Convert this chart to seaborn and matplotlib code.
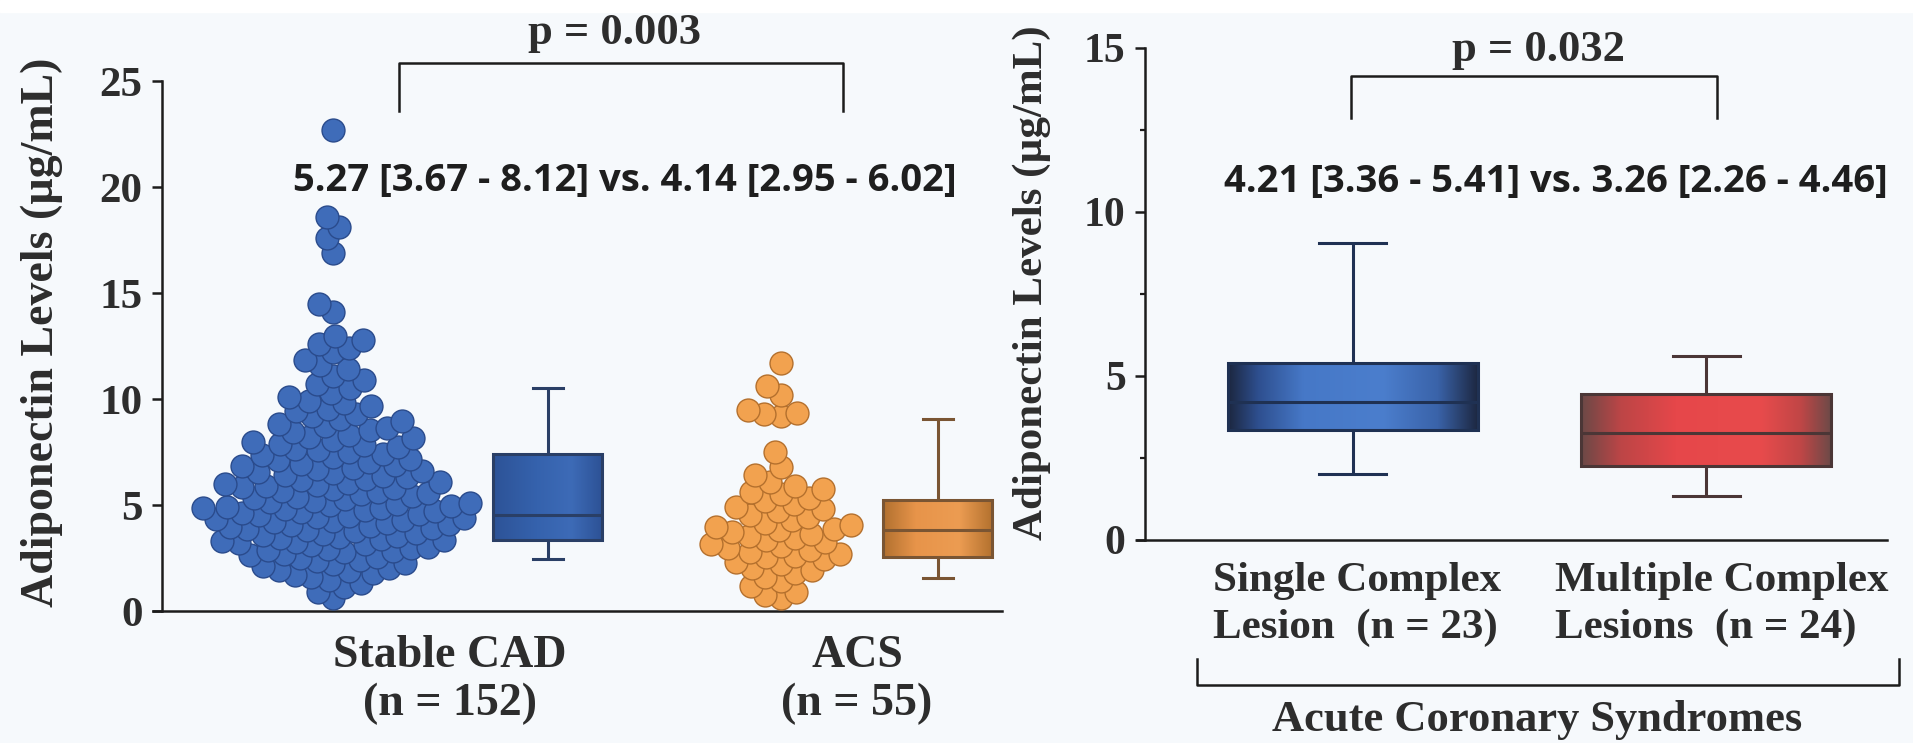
import numpy as np
import matplotlib
import matplotlib.pyplot as plt
from matplotlib.colors import LinearSegmentedColormap
from matplotlib.patches import Rectangle
import seaborn as sns

matplotlib.use('Agg')

# ---- data (adiponectin, ug/mL) ----
stable_cad_values = [
    0.6, 0.9,
    1.15, 1.3, 1.45, 1.6, 1.7, 1.8, 1.88, 1.95,
    2.05, 2.12, 2.2, 2.28, 2.35, 2.42, 2.5, 2.57, 2.64, 2.7, 2.76, 2.82, 2.88, 2.93, 2.98,
    3.04, 3.09, 3.14, 3.19, 3.24, 3.29, 3.34, 3.4, 3.45, 3.5, 3.55, 3.6, 3.65,
    3.7, 3.76, 3.81, 3.86, 3.91, 3.96,
    4.02, 4.06, 4.1, 4.15, 4.2, 4.24, 4.28, 4.33, 4.38, 4.42, 4.47, 4.52,
    4.56, 4.6, 4.65, 4.7, 4.75, 4.8, 4.84, 4.88, 4.92, 4.95, 4.98,
    5.03, 5.08, 5.14, 5.2, 5.26, 5.32, 5.38, 5.44, 5.5, 5.56, 5.62,
    5.68, 5.74, 5.8, 5.85, 5.9, 5.94, 5.98,
    6.04, 6.1, 6.16, 6.22, 6.3, 6.36, 6.42, 6.5, 6.56, 6.62, 6.7, 6.76, 6.82, 6.88, 6.95,
    7.03, 7.1, 7.18, 7.26, 7.34, 7.42, 7.5, 7.58, 7.66, 7.74, 7.82, 7.9, 7.97,
    8.05, 8.14, 8.23, 8.32, 8.42, 8.52, 8.62, 8.72, 8.84, 8.95,
    9.05, 9.18, 9.3, 9.42, 9.55, 9.68, 9.8, 9.92,
    10.1, 10.3, 10.5, 10.7, 10.9,
    11.1, 11.4, 11.6, 11.85,
    12.2, 12.4, 12.6, 12.8, 12.95,
    14.1, 14.5,
    16.9, 17.6,
    18.1, 18.6,
    22.7,
]
acs_values = [
    0.6, 0.75, 0.9,
    1.2, 1.4, 1.6, 1.8, 1.95,
    2.05, 2.2, 2.3, 2.45, 2.55, 2.6, 2.7, 2.8, 2.88, 2.95,
    3.05, 3.15, 3.25, 3.35, 3.45, 3.55, 3.65, 3.72, 3.8, 3.88, 3.95,
    4.05, 4.15, 4.3, 4.45, 4.55, 4.7, 4.8, 4.92,
    5.05, 5.2, 5.35, 5.5, 5.62, 5.75, 5.9,
    6.1, 6.4, 6.8,
    7.5,
    9.2, 9.3, 9.35, 9.5,
    10.2, 10.6,
    11.7,
]

# box plots as drawn: lower whisker, Q1, median, Q3, upper whisker
stable_box = [2.45, 3.35, 4.55, 7.4, 10.5]
acs_box = [1.55, 2.55, 3.8, 5.25, 9.05]
single_box = [2.0, 3.36, 4.21, 5.41, 9.05]
multiple_box = [1.35, 2.26, 3.26, 4.46, 5.6]

left_labels = ['Stable CAD\n(n = 152)', 'ACS\n(n = 55)']
right_labels = ['Single Complex\nLesion  (n = 23)', 'Multiple Complex\nLesions  (n = 24)']
left_pvalue = 'p = 0.003'
right_pvalue = 'p = 0.032'
left_summary = '5.27 [3.67 - 8.12] vs. 4.14 [2.95 - 6.02]'
right_summary = '4.21 [3.36 - 5.41] vs. 3.26 [2.26 - 4.46]'
y_label = 'Adiponectin Levels (\u00b5g/mL)'
group_label = 'Acute Coronary Syndromes'

# ---- layout / style ----
TEXT = '#2d2d2d'
SERIF = dict(family='Liberation Serif', weight='bold', color=TEXT)
SANS = dict(family='Open Sans', weight='bold', color='#1e1e1e')
LAYOUT_DOT = 10.5   # marker size used to lay out the swarm
DOT = 16.5          # marker size actually shown (dots overlap like the original)
SWARM_POS = [1.80, 6.28]
SWARM_COLORS = [('#3f6cb9', '#2a4b8c'), ('#f2a24f', '#b4702d')]

W, H = 1913, 743


def box(ax, summary, pos, width, line, shades):
    n0 = len(ax.patches)
    sns.boxplot(x=np.full(len(summary), pos), y=summary, native_scale=True, orient='x',
                width=width, whis=(0, 100), showfliers=False, color='white',
                linecolor=line, linewidth=2.2, capwidths=width * 0.27, ax=ax)
    patch = ax.patches[n0]
    bb = patch.get_path().get_extents()
    cmap = LinearSegmentedColormap.from_list('shade', shades)
    im = ax.imshow(np.linspace(0, 1, 256).reshape(1, -1), cmap=cmap, aspect='auto',
                   extent=(bb.x0, bb.x1, bb.y0, bb.y1), origin='lower',
                   interpolation='bilinear', zorder=1.9)
    im.set_clip_path(patch)
    patch.set_facecolor('none')


def style_axis(ax, spine_x, ymax, ystep, label_fs, minor=False):
    for s in ['top', 'right']:
        ax.spines[s].set_visible(False)
    ax.spines['left'].set_position(('data', spine_x))
    for s in ['left', 'bottom']:
        ax.spines[s].set_linewidth(1.8)
        ax.spines[s].set_color('#1c1c1c')
    ax.set_yticks(np.arange(0, ymax + 0.1, ystep))
    ax.tick_params(axis='y', length=7, width=1.8, color='#1c1c1c', pad=7,
                   labelsize=label_fs, labelcolor=TEXT)
    if minor:
        ax.set_yticks(np.arange(ystep / 2, ymax, ystep), minor=True)
        ax.tick_params(axis='y', which='minor', length=3.5, width=1.6, color='#1c1c1c')
    for t in ax.get_yticklabels():
        t.set_family('Liberation Serif')
        t.set_weight('bold')
    ax.tick_params(axis='x', length=0)
    ax.set_facecolor('none')
    ax.set_xlabel('')


fig = plt.figure(figsize=(W / 100, H / 100), dpi=100, facecolor='#f6f9fc')
fig.patches.append(Rectangle((0, 1 - 12 / H), 1, 12 / H, transform=fig.transFigure,
                             color='white', zorder=0))

# ---------------- left panel ----------------
ax1 = fig.add_axes([153 / W, 1 - 611 / H, 849 / W, 530 / H])
swarm_x = [SWARM_POS[0]] * len(stable_cad_values) + [SWARM_POS[1]] * len(acs_values)
n0 = len(ax1.collections)
sns.swarmplot(x=swarm_x, y=stable_cad_values + acs_values, native_scale=True, orient='x',
              size=LAYOUT_DOT, color=SWARM_COLORS[0][0], edgecolor=SWARM_COLORS[0][1],
              linewidth=1.0, warn_thresh=1.0, ax=ax1)
swarms = ax1.collections[n0:]
for coll in swarms:
    cx = coll.get_offsets()[:, 0].mean()
    face, edge = SWARM_COLORS[int(np.argmin([abs(cx - p) for p in SWARM_POS]))]
    coll.set_facecolor(face)
    coll.set_edgecolor(edge)

box(ax1, stable_box, 3.95, 1.09, '#2a3f66',
    [(0, '#2d5397'), (0.4, '#3562ad'), (0.72, '#3d6bb7'), (1, '#2d5296')])
box(ax1, acs_box, 7.85, 1.09, '#7a5533',
    [(0, '#b1702f'), (0.3, '#e7944a'), (0.7, '#ec9c52'), (1, '#b4722f')])
ax1.set_xlim(0, 8.49)
ax1.set_ylim(0, 25)
style_axis(ax1, 0.09, 25, 5, 31)
ax1.set_xticks([2.97, 7.04])
ax1.set_xticklabels(left_labels, fontsize=33, linespacing=1.2, **SERIF)
ax1.tick_params(axis='x', pad=17)
ax1.set_ylabel(y_label, fontsize=33, **SERIF)
ax1.yaxis.label.set_va('center')
ax1.yaxis.set_label_coords(-0.131, 0.526)

ax1.plot([2.46, 2.46, 6.90, 6.90], [23.6, 25.85, 25.85, 23.6], color='#1c1c1c',
         lw=1.8, clip_on=False)
ax1.text(4.62, 26.75, left_pvalue, ha='center', va='baseline', fontsize=32, **SERIF)
ax1.text(4.72, 20.3, left_summary, ha='center', va='center', fontsize=27.5, **SANS)

# ---------------- right panel ----------------
ax2 = fig.add_axes([1137 / W, 1 - 540 / H, 750 / W, 492 / H])
box(ax2, single_box, 2.16, 2.50, '#1f3153',
    [(0, '#1c2740'), (0.12, '#2e4f8f'), (0.3, '#4678c7'), (0.62, '#4b7ecd'),
     (0.84, '#3a63a9'), (1, '#1d2842')])
box(ax2, multiple_box, 5.70, 2.50, '#4b3636',
    [(0, '#6b4947'), (0.16, '#bd4546'), (0.38, '#e6474a'), (0.72, '#e84b4c'),
     (0.88, '#c04646'), (1, '#6e4a48')])
ax2.set_xlim(0, 7.51)
ax2.set_ylim(0, 15)
style_axis(ax2, 0.08, 15, 5, 30, minor=True)
ax2.set_xticks([2.20, 5.86])
ax2.set_xticklabels(right_labels, fontsize=31, linespacing=1.28, multialignment='left', **SERIF)
ax2.tick_params(axis='x', pad=16)
ax2.set_ylabel(y_label, fontsize=31, **SERIF)
ax2.yaxis.label.set_va('center')
ax2.yaxis.set_label_coords(-0.14, 0.524)

ax2.plot([2.14, 2.14, 5.81, 5.81], [12.87, 14.15, 14.15, 12.87], color='#1c1c1c',
         lw=1.8, clip_on=False)
ax2.text(4.02, 14.6, right_pvalue, ha='center', va='baseline', fontsize=32, **SERIF)
ax2.text(4.19, 10.9, right_summary, ha='center', va='center', fontsize=27.5, **SANS)
ax2.plot([0.60, 0.60, 7.63, 7.63], [-3.63, -4.42, -4.42, -3.63], color='#1c1c1c',
         lw=1.8, clip_on=False)
ax2.text(4.01, -5.49, group_label, ha='center', va='center', fontsize=32, **SERIF)

# lay the swarms out with the small size, then show the dots at full size
fig.canvas.draw()
for coll in swarms:
    if 'draw' in coll.__dict__:
        del coll.draw
    coll.set_sizes([DOT ** 2])

fig.savefig('out.png', dpi=100, facecolor=fig.get_facecolor())
plt.close(fig)
